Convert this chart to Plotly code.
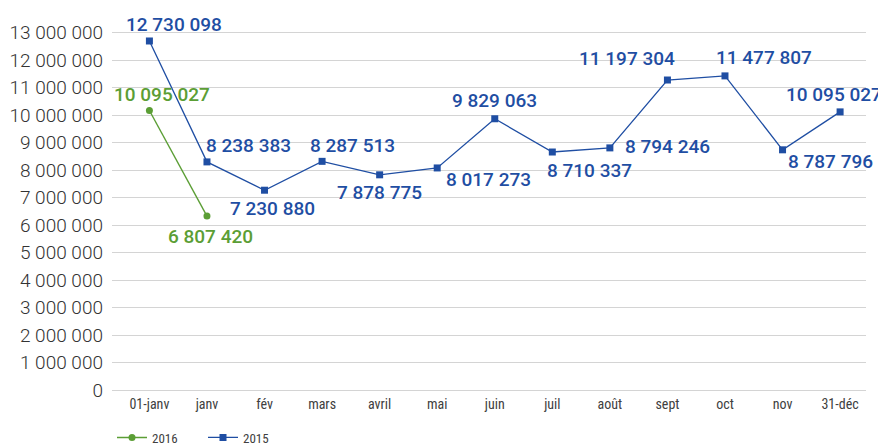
import plotly.graph_objects as go

categories = ["01-janv", "janv", "fév", "mars", "avril", "mai", "juin", "juil",
              "août", "sept", "oct", "nov", "31-déc"]

# 2015 series (values as plotted) and data label texts
values_2015 = [12700000, 8300000, 7270000, 8320000, 7830000, 8080000, 9870000,
               8660000, 8810000, 11280000, 11430000, 8740000, 10120000]
labels_2015 = ["12 730 098", "8 238 383", "7 230 880", "8 287 513", "7 878 775",
               "8 017 273", "9 829 063", "8 710 337", "8 794 246", "11 197 304",
               "11 477 807", "8 787 796", "10 095 027"]

# 2016 series
categories_2016 = ["01-janv", "janv"]
values_2016 = [10170000, 6330000]
labels_2016 = ["10 095 027", "6 807 420"]

# label offsets (px) relative to each point
offsets_2015 = [(25, 16), (42, 16), (8, -18), (30, 16), (0, -18), (51, -12),
                (0, 18), (37, -18), (58, 1), (-40, 22), (39, 18), (48, -12), (-6, 17)]
offsets_2016 = [(13, 16), (4, -20)]

BLUE = "#1f4ea3"
GREEN = "#5b9e35"
LABEL_FONT = "Roboto, 'Liberation Sans', sans-serif"
NARROW_FONT = "'Liberation Sans Narrow', 'Roboto Condensed', Roboto, sans-serif"

fig = go.Figure()
fig.add_trace(go.Scatter(
    x=categories_2016, y=values_2016, name="2016", mode="lines+markers",
    line=dict(color=GREEN, width=1.4),
    marker=dict(symbol="circle", size=7, color=GREEN),
))
fig.add_trace(go.Scatter(
    x=categories, y=values_2015, name="2015", mode="lines+markers",
    line=dict(color=BLUE, width=1.3),
    marker=dict(symbol="square", size=7, color=BLUE),
))

annotations = []
for cat, val, txt, (dx, dy) in zip(categories, values_2015, labels_2015, offsets_2015):
    annotations.append(dict(x=cat, y=val, text=txt, showarrow=False,
                            xshift=dx, yshift=dy,
                            font=dict(family=LABEL_FONT, size=19, color=BLUE, weight=500)))
for cat, val, txt, (dx, dy) in zip(categories_2016, values_2016, labels_2016, offsets_2016):
    annotations.append(dict(x=cat, y=val, text=txt, showarrow=False,
                            xshift=dx, yshift=dy,
                            font=dict(family=LABEL_FONT, size=19, color=GREEN, weight=500)))

# the page body has an 8px default margin, so the figure is drawn 8px smaller
fig.update_layout(
    width=878, height=440,
    margin=dict(l=104, r=20, t=11, b=58, autoexpand=False),
    plot_bgcolor="white", paper_bgcolor="white",
    separators=", ",
    annotations=annotations,
    showlegend=True,
    legend=dict(orientation="h", x=0.0, xanchor="left", y=-0.128, yanchor="middle",
                font=dict(family=NARROW_FONT, size=13, color="#404040"),
                itemwidth=30, entrywidth=46, entrywidthmode="pixels",
                traceorder="normal"),
    xaxis=dict(type="category", categoryorder="array", categoryarray=categories,
               range=[-0.65, 12.45], showgrid=False, zeroline=False, showline=False,
               ticks="", ticklabelstandoff=4,
               tickfont=dict(family=NARROW_FONT, size=14, color="#404040")),
    yaxis=dict(range=[0, 13500000], dtick=1000000, tick0=0, tickformat=",d",
               showgrid=True, gridcolor="#d4d4d4", gridwidth=1.4,
               zeroline=True, zerolinecolor="#d4d4d4", zerolinewidth=1.4,
               showline=False, ticks="", ticklabelstandoff=8,
               tickfont=dict(family="Roboto, 'Liberation Sans', sans-serif", size=19,
                             color="#333333", weight=300)),
)

fig.write_html("out.html")
